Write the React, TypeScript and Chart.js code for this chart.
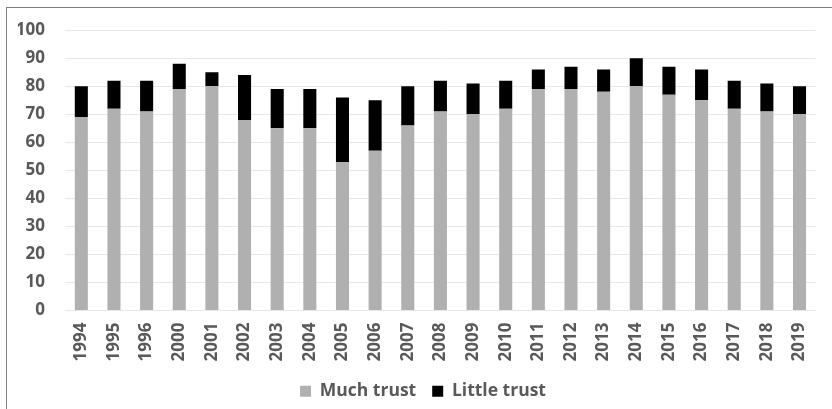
import React, { useEffect, useRef } from "react";
import { Chart, registerables } from "chart.js";

Chart.register(...registerables);

const years = [
  "1994", "1995", "1996", "2000", "2001", "2002", "2003", "2004", "2005", "2006", "2007", "2008",
  "2009", "2010", "2011", "2012", "2013", "2014", "2015", "2016", "2017", "2018", "2019",
];
const muchTrust = [69, 72, 71, 79, 80, 68, 65, 65, 53, 57, 66, 71, 70, 72, 79, 79, 78, 80, 77, 75, 72, 71, 70];
const littleTrust = [11, 10, 11, 9, 5, 16, 14, 14, 23, 18, 14, 11, 11, 10, 7, 8, 8, 10, 10, 11, 10, 10, 10];
const yTicks = [0, 10, 20, 30, 40, 50, 60, 70, 80, 90, 100];

const TEXT = "#595959";
const FONT = "'Open Sans'";

export default function App() {
  const ref = useRef<HTMLCanvasElement | null>(null);

  useEffect(() => {
    if (!ref.current) return;
    const chart = new Chart(ref.current, {
      type: "bar",
      data: {
        labels: years,
        datasets: [
          {
            label: "Much trust",
            data: muchTrust,
            backgroundColor: "#b0b0b0",
            borderWidth: 0,
            categoryPercentage: 1,
            barPercentage: 0.4,
          },
          {
            label: "Little trust",
            data: littleTrust,
            backgroundColor: "#000000",
            borderWidth: 0,
            categoryPercentage: 1,
            barPercentage: 0.4,
          },
        ],
      },
      options: {
        animation: false,
        responsive: false,
        layout: { padding: { left: 18, right: 4, top: 24, bottom: -1 } },
        plugins: {
          tooltip: { enabled: false },
          legend: {
            position: "bottom",
            labels: {
              boxWidth: 11,
              boxHeight: 11,
              padding: 16,
              color: TEXT,
              font: { family: FONT, size: 17.5, weight: "bold" },
            },
          },
        },
        scales: {
          x: {
            stacked: true,
            grid: { display: false, drawTicks: false },
            border: { display: false },
            ticks: {
              color: TEXT,
              font: { family: FONT, size: 17, weight: "bold" },
              minRotation: 90,
              maxRotation: 90,
              padding: 12,
              autoSkip: false,
            },
            afterFit: (s: any) => {
              s.height = 56;
            },
          },
          y: {
            stacked: true,
            min: 0,
            max: 100,
            afterBuildTicks: (s: any) => {
              s.ticks = yTicks.map((v) => ({ value: v }));
            },
            grid: { color: "#e8e8e8", lineWidth: 1, drawTicks: false },
            border: { display: false },
            ticks: {
              color: TEXT,
              font: { family: FONT, size: 17, weight: "bold" },
              padding: 20,
            },
            afterFit: (s: any) => {
              s.width = 47;
            },
          },
        },
      },
    });
    return () => chart.destroy();
  }, []);

  return (
    <div style={{ position: "absolute", left: 0, top: 0, width: 832, height: 409, background: "#fff" }}>
      <div
        style={{
          position: "absolute",
          left: 6,
          top: 7,
          right: 0,
          bottom: 0,
          borderLeft: "1px solid #7f7f7f",
          borderTop: "1px solid #7f7f7f",
        }}
      />
      <canvas ref={ref} width={832} height={409} style={{ position: "absolute", left: 0, top: 0 }} />
    </div>
  );
}
